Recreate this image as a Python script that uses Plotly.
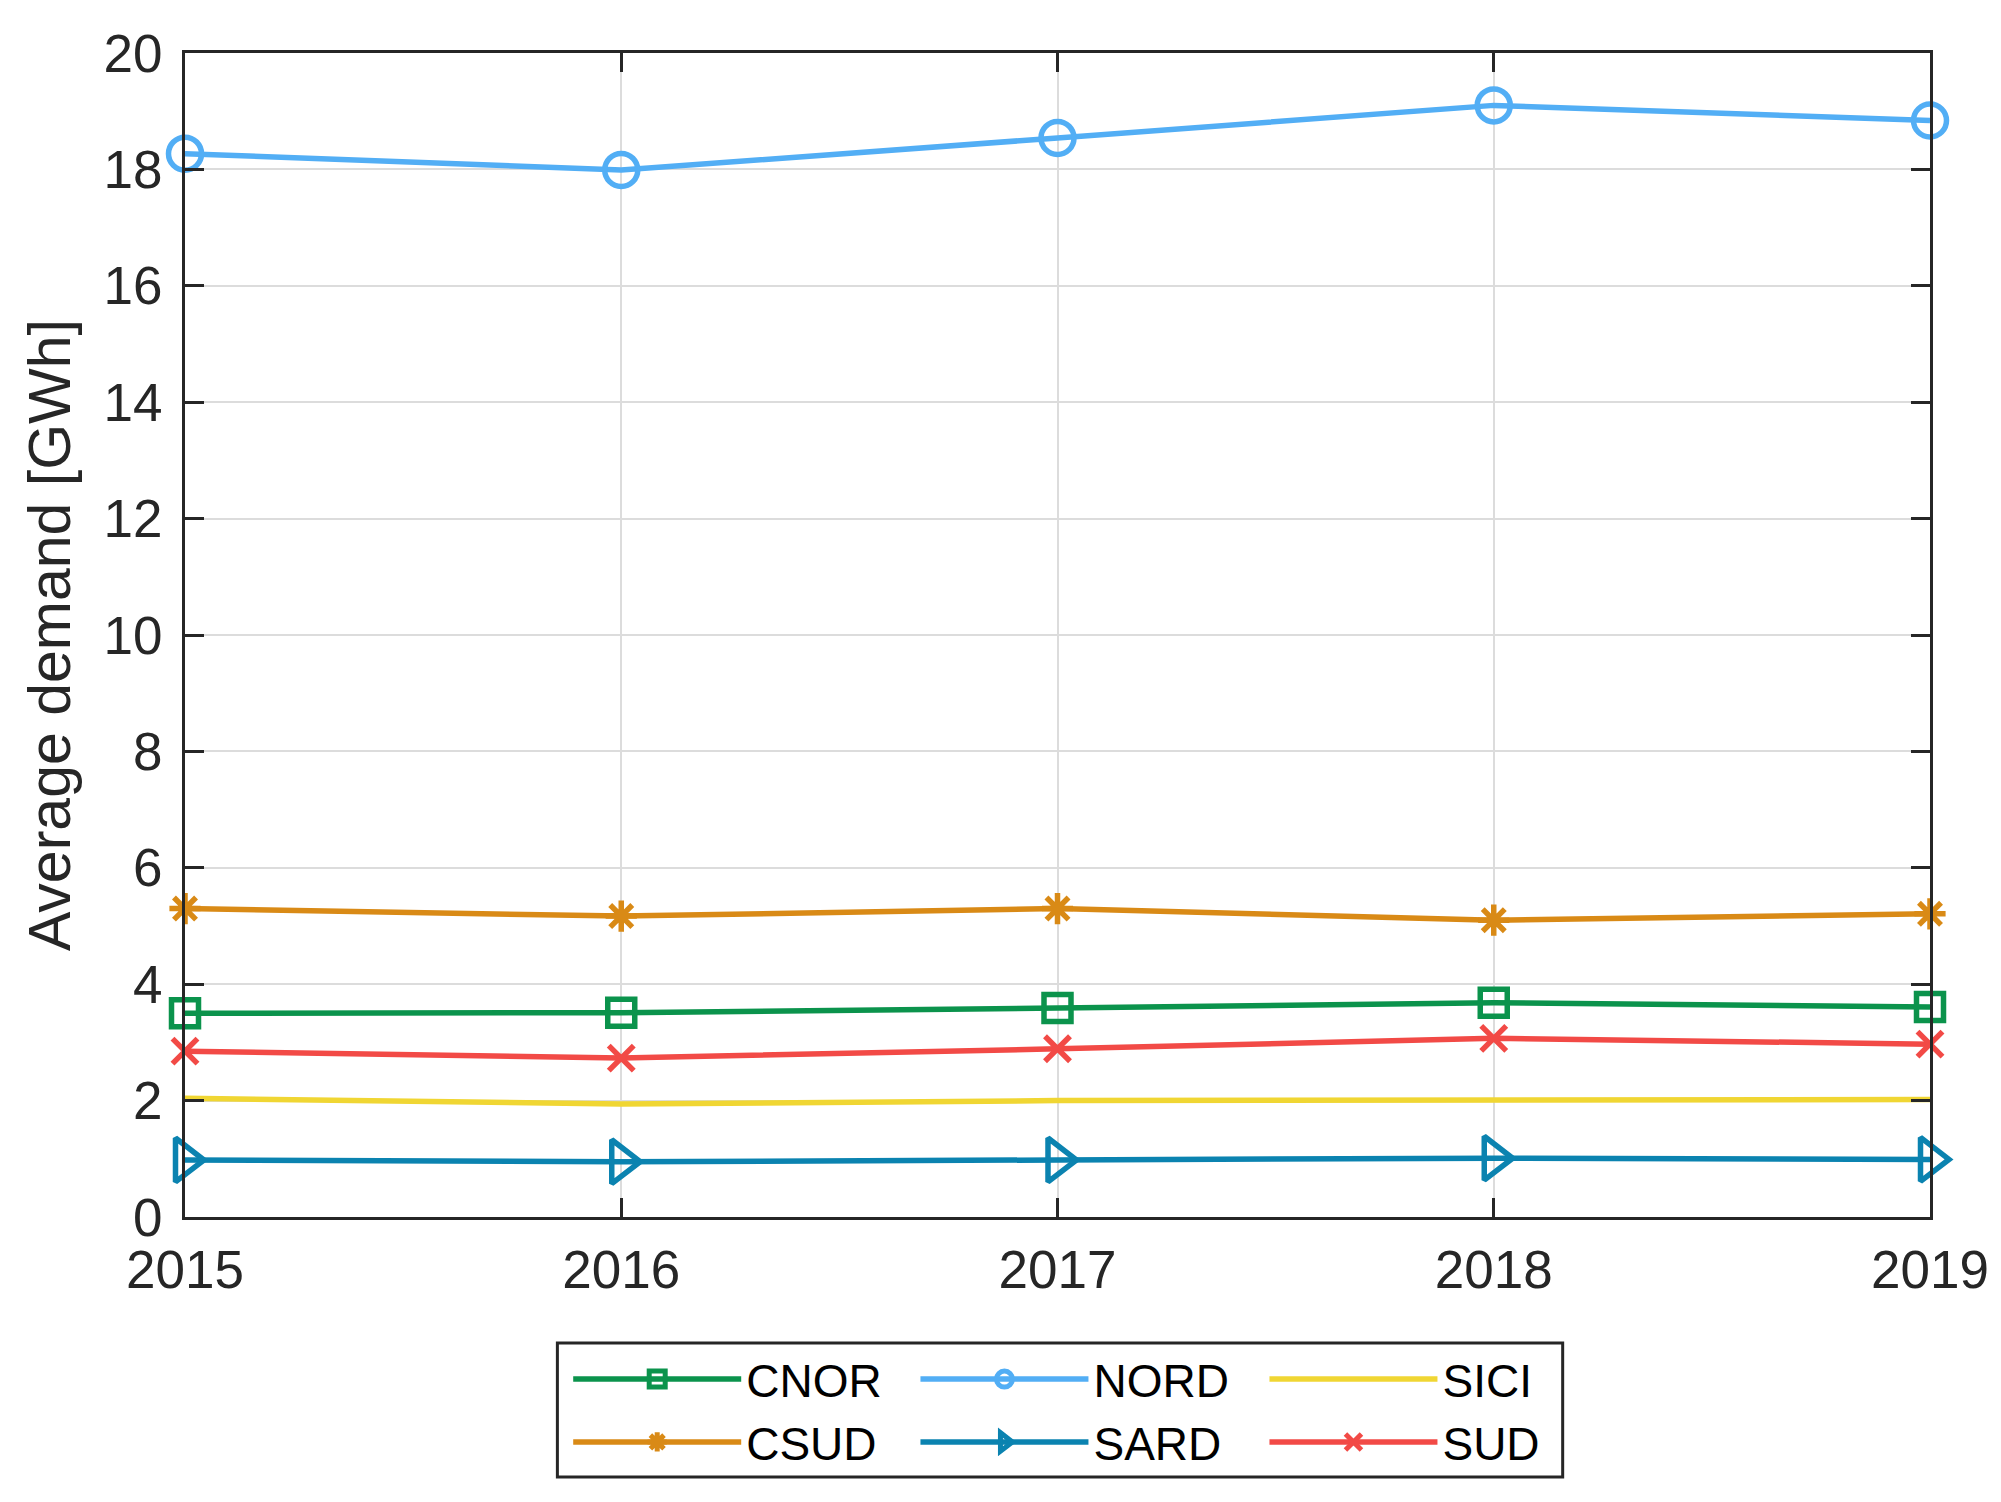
import plotly.graph_objects as go

years = [2015, 2016, 2017, 2018, 2019]
cnor = [3.50, 3.51, 3.59, 3.68, 3.61]
nord = [18.27, 17.99, 18.54, 19.10, 18.84]
sici = [2.04, 1.94, 2.00, 2.02, 2.02]
csud = [5.30, 5.17, 5.30, 5.10, 5.21]
sard = [0.98, 0.95, 0.98, 1.01, 0.99]
sud = [2.85, 2.73, 2.89, 3.07, 2.97]

y_ticks = list(range(0, 21, 2))
y_title = "Average demand [GWh]"

FONT = "Liberation Sans, Arial, Helvetica, sans-serif"
AX = "#262626"

series = [
    ("CNOR", cnor, "#0b934c", "square-open", 27, "legend"),
    ("CSUD", csud, "#d98a16", "asterisk-open", 26, "legend"),
    ("NORD", nord, "#52aef5", "circle-open", 33, "legend2"),
    ("SARD", sard, "#0b83b0", "triangle-right-open", 38, "legend2"),
    ("SICI", sici, "#f0d633", None, 0, "legend3"),
    ("SUD", sud, "#f24a46", "x-thin-open", 25, "legend3"),
]

fig = go.Figure()
for name, vals, color, sym, size, lg in series:
    kw = dict(mode="lines")
    if sym:
        kw = dict(mode="lines+markers",
                  marker=dict(symbol=sym, size=size, color=color,
                              line=dict(color=color, width=5.5)))
    fig.add_trace(go.Scatter(x=years, y=vals, name=name, legend=lg,
                             line=dict(color=color, width=5.5),
                             cliponaxis=False, **kw))

leg_common = dict(orientation="v", yanchor="top", xanchor="left",
                  font=dict(family=FONT, size=46, color="black"),
                  bgcolor="rgba(0,0,0,0)", borderwidth=0, itemwidth=168,
                  tracegroupgap=0, y=-0.108)

# page body adds an 8px offset, so the figure is 8px smaller than the window
fig.update_layout(
    width=1993, height=1494,
    margin=dict(l=177, r=68, t=45, b=285),
    paper_bgcolor="white", plot_bgcolor="white",
    font=dict(family=FONT, color=AX),
    showlegend=True,
    legend=dict(x=0.2196, **leg_common),
    legend2=dict(x=0.4186, **leg_common),
    legend3=dict(x=0.6186, **leg_common),
    shapes=[dict(type="rect", xref="paper", yref="paper",
                 x0=0.2134, x1=0.7895, y0=-0.2234, y1=-0.1082,
                 line=dict(color=AX, width=3), fillcolor="rgba(0,0,0,0)",
                 layer="above")],
)

fig.update_xaxes(range=[2015, 2019], tickvals=years, ticktext=[str(y) for y in years],
                 showline=True, linecolor=AX, linewidth=3, mirror="ticks",
                 ticks="inside", ticklen=19, tickwidth=3, tickcolor=AX,
                 showgrid=True, gridcolor="#dcdcdc", gridwidth=2, zeroline=False,
                 tickfont=dict(family=FONT, size=53, color=AX), ticklabelstandoff=4)
fig.update_yaxes(range=[0, 20], tickvals=y_ticks,
                 showline=True, linecolor=AX, linewidth=3, mirror="ticks",
                 ticks="inside", ticklen=19, tickwidth=3, tickcolor=AX,
                 showgrid=True, gridcolor="#dcdcdc", gridwidth=2, zeroline=False,
                 tickfont=dict(family=FONT, size=53, color=AX), ticklabelstandoff=9,
                 title=dict(text=y_title, font=dict(family=FONT, size=59, color=AX), standoff=14))

fig.write_html("out.html")
